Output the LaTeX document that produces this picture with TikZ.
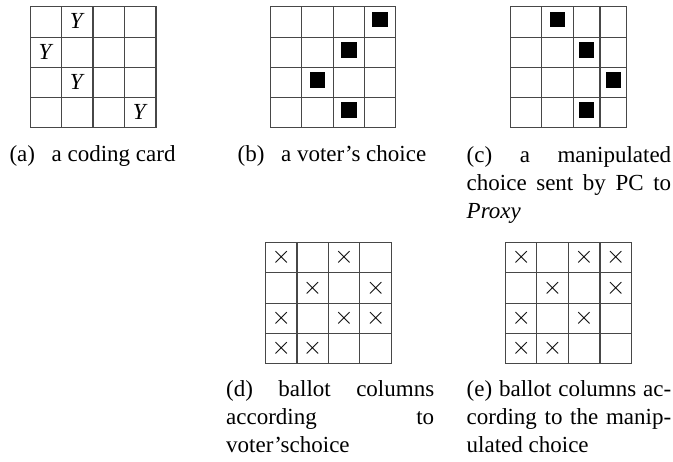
\documentclass[tikz,border=0pt]{standalone}
\usepackage{fontspec}
\setmainfont{Liberation Serif}
\newcommand\mygrid[6]{%
  \foreach \gx in {#1}{\draw[gridline] (\gx,#5) -- (\gx,#6);}
  \foreach \gy in {#2}{\draw[gridline] (#3,\gy) -- (#4,\gy);}
}
\tikzset{
  gridline/.style={line width=1.1pt, draw=black!72, line cap=rect},
  blk/.style={fill=black, draw=none, minimum width=15.5pt, minimum height=15.5pt, inner sep=0pt, rectangle},
  celltxt/.style={font=\fontsize{23}{26}\selectfont, inner sep=0pt},
  crosstxt/.style={font=\fontsize{28}{30}\selectfont, inner sep=0pt},
  capline/.style={font=\fontsize{23}{28}\selectfont, inner sep=0pt, anchor=base},
  capbox/.style={font=\fontsize{23}{28}\selectfont, inner sep=0pt, text width=204.5pt, align=justify, anchor=base west}
}
\begin{document}
\begin{tikzpicture}[x=1pt,y=-1pt]
\useasboundingbox (0,0) rectangle (673,462);
% (a) coding card
\mygrid{30.3,61.7,93,124.7,156}{6.7,37.3,67.7,97.7,127.7}{30.3}{156}{6.7}{127.7}
\node[celltxt] (a1) at (77.35,21) {\textit{Y}};
\node[celltxt] (a2) at (46,51.5) {\textit{Y}};
\node[celltxt] (a3) at (77.35,81.7) {\textit{Y}};
\node[celltxt] (a4) at (140.35,111.7) {\textit{Y}};
\node[capline] (capa) at (92.5,162) {(a)\hspace{0.72em}a coding card};
% (b) voter's choice
\mygrid{270.3,301.7,333.3,364.7,395.7}{6.7,37.3,67.7,97.7,127.7}{270.3}{395.7}{6.7}{127.7}
\node[blk] (b1) at (380.2,19.5) {};
\node[blk] (b2) at (349,50) {};
\node[blk] (b3) at (317.5,80.2) {};
\node[blk] (b4) at (349,110.2) {};
\node[capline] (capb) at (332,162) {(b)\hspace{0.72em}a voter’s choice};
% (c) manipulated choice
\mygrid{510.5,541.8,573.3,600,626.7}{6.7,37.3,67.7,97.7,127.7}{510.5}{626.7}{6.7}{127.7}
\node[blk] (c1) at (557.55,19.5) {};
\node[blk] (c2) at (586.65,50) {};
\node[blk] (c3) at (613.35,80.2) {};
\node[blk] (c4) at (586.65,110.2) {};
\node[capbox] (capc) at (466.5,163) {(c) a manipulated\linebreak choice sent by PC to\linebreak \textit{Proxy}};
% (d) ballot columns, voter's choice
\mygrid{265.7,297,328.3,359.7,391.7}{242.3,272.7,303.3,333.3,363.3}{265.7}{391.7}{242.3}{363.3}
\node[crosstxt] (d1) at (281.35,257.5) {$\times$};
\node[crosstxt] (d2) at (344,257.5) {$\times$};
\node[crosstxt] (d3) at (312.65,288) {$\times$};
\node[crosstxt] (d4) at (375.7,288) {$\times$};
\node[crosstxt] (d5) at (281.35,318.3) {$\times$};
\node[crosstxt] (d6) at (344,318.3) {$\times$};
\node[crosstxt] (d7) at (375.7,318.3) {$\times$};
\node[crosstxt] (d8) at (281.35,348.3) {$\times$};
\node[crosstxt] (d9) at (312.65,348.3) {$\times$};
\node[capbox, text width=208pt] (capd) at (226,397) {(d) ballot columns\linebreak according to\linebreak voter’schoice};
% (e) ballot columns, manipulated choice
\mygrid{505.7,536.7,568.3,600,631.7}{242.3,272.7,303.3,333.3,363.3}{505.7}{631.7}{242.3}{363.3}
\node[crosstxt] (e1) at (521.2,257.5) {$\times$};
\node[crosstxt] (e2) at (584.15,257.5) {$\times$};
\node[crosstxt] (e3) at (615.85,257.5) {$\times$};
\node[crosstxt] (e4) at (552.5,288) {$\times$};
\node[crosstxt] (e5) at (615.85,288) {$\times$};
\node[crosstxt] (e6) at (521.2,318.3) {$\times$};
\node[crosstxt] (e7) at (584.15,318.3) {$\times$};
\node[crosstxt] (e8) at (521.2,348.3) {$\times$};
\node[crosstxt] (e9) at (552.5,348.3) {$\times$};
\node[capbox] (cape) at (466.5,397) {(e) ballot columns ac-\linebreak cording to the manip-\linebreak ulated choice};
\end{tikzpicture}
\end{document}
